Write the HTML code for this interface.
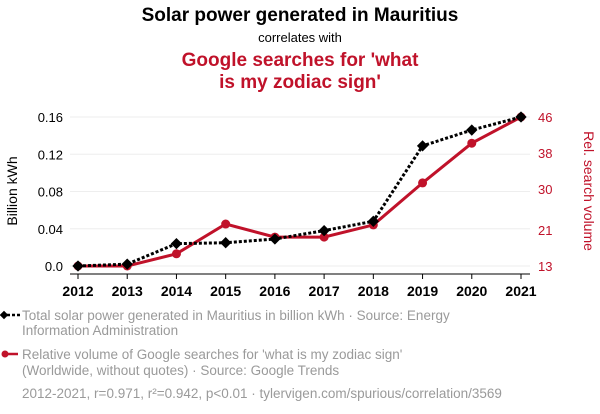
<!DOCTYPE html>
<html><head><meta charset="utf-8">
<style>
body{margin:0;width:600px;height:414px;background:#fff;font-family:"Liberation Sans",sans-serif;overflow:hidden}
svg{position:absolute;left:0;top:0}
</style></head>
<body>
<svg id="c" width="600" height="414">
<text x="300" y="21" text-anchor="middle" font-size="19" font-weight="bold" fill="#000">Solar power generated in Mauritius</text>
<text x="300" y="42" text-anchor="middle" font-size="13" fill="#000">correlates with</text>
<text x="300" y="66" text-anchor="middle" font-size="19" font-weight="bold" fill="#c0122a">Google searches for 'what</text>
<text x="300" y="88" text-anchor="middle" font-size="19" font-weight="bold" fill="#c0122a">is my zodiac sign'</text>
<text transform="translate(17,191) rotate(-90)" text-anchor="middle" font-size="14" fill="#000">Billion kWh</text>
<text transform="translate(584,191) rotate(90)" text-anchor="middle" font-size="14" fill="#c0122a">Rel. search volume</text>
<g id="grid"></g><g id="axes"></g><g id="marks"></g>
<g font-size="13.5" fill="#9a9a9a">
<line x1="2" y1="315" x2="20" y2="315" stroke="#000" stroke-width="2.5" stroke-dasharray="3,2"/>
<rect x="1" y="312" width="6" height="6" transform="rotate(45 4 315)" fill="#000"/>
<text x="22" y="320">Total solar power generated in Mauritius in billion kWh · Source: Energy</text>
<text x="22" y="335">Information Administration</text>
<line x1="2" y1="354" x2="18" y2="354" stroke="#c0122a" stroke-width="2.5"/>
<circle cx="5" cy="354" r="3.5" fill="#c0122a"/>
<text x="22" y="359">Relative volume of Google searches for 'what is my zodiac sign'</text>
<text x="22" y="375">(Worldwide, without quotes) · Source: Google Trends</text>
<text x="22" y="398">2012-2021, r=0.971, r²=0.942, p&lt;0.01 · tylervigen.com/spurious/correlation/3569</text>
</g>
</svg>
<script>
const years=[2012,2013,2014,2015,2016,2017,2018,2019,2020,2021];
const solar=[0.0,0.002,0.024,0.025,0.029,0.038,0.048,0.129,0.146,0.16];
const searches=[13,13,15.7,22.3,19.4,19.4,22.1,31.4,40.2,46];
const leftTicks=[0.0,0.04,0.08,0.12,0.16];
const leftLabels=["0.0","0.04","0.08","0.12","0.16"];
const rightTicks=[13,21,30,38,46];
const NS="http://www.w3.org/2000/svg";
const x=i=>78+(521-78)*i/(years.length-1);
const yL=v=>266-(v-0)/(0.16)*149;
const yR=v=>266-(v-13)/(46-13)*149;
function mk(t,a,p){const e=document.createElementNS(NS,t);for(const k in a)e.setAttribute(k,a[k]);p.appendChild(e);return e;}
const grid=document.getElementById('grid'),axes=document.getElementById('axes'),marks=document.getElementById('marks');
leftTicks.forEach((v,i)=>{
 const g=mk('line',{x1:70,x2:530,y1:yL(v),y2:yL(v),stroke:'#eee','stroke-width':1},grid);
 
 
 const t=mk('text',{x:63,y:yL(v)+5,'text-anchor':'end','font-size':13,fill:'#000'},axes);t.textContent=leftLabels[i];
 
 
});
rightTicks.forEach(v=>{
 const t=mk('text',{x:538,y:yR(v)+5,'font-size':13,fill:'#c0122a'},axes);t.textContent=v;
 
 
});
const ax=mk('line',{x1:70,x2:530,y1:274,y2:274,stroke:'#000','stroke-width':1},axes);


years.forEach((yr,i)=>{
 mk('line',{x1:x(i),x2:x(i),y1:274,y2:279,stroke:'#000'},axes);
 const t=mk('text',{x:x(i),y:296,'text-anchor':'middle','font-size':14,'font-weight':'bold',fill:'#000'},axes);t.textContent=yr;
 
 
});
const rp=mk('polyline',{points:searches.map((v,i)=>x(i)+','+yR(v)).join(' '),fill:'none',stroke:'#c0122a','stroke-width':3},marks);


searches.forEach((v,i)=>{const c=mk('circle',{cx:x(i),cy:yR(v),r:4.5,fill:'#c0122a'},marks);
 
 });
const bp=mk('polyline',{points:solar.map((v,i)=>x(i)+','+yL(v)).join(' '),fill:'none',stroke:'#000','stroke-width':3,'stroke-dasharray':'3,2'},marks);


solar.forEach((v,i)=>{const r=mk('rect',{x:x(i)-4,y:yL(v)-4,width:8,height:8,fill:'#000',transform:`rotate(45 ${x(i)} ${yL(v)})`},marks);
 
 });
</script>
</body></html>
